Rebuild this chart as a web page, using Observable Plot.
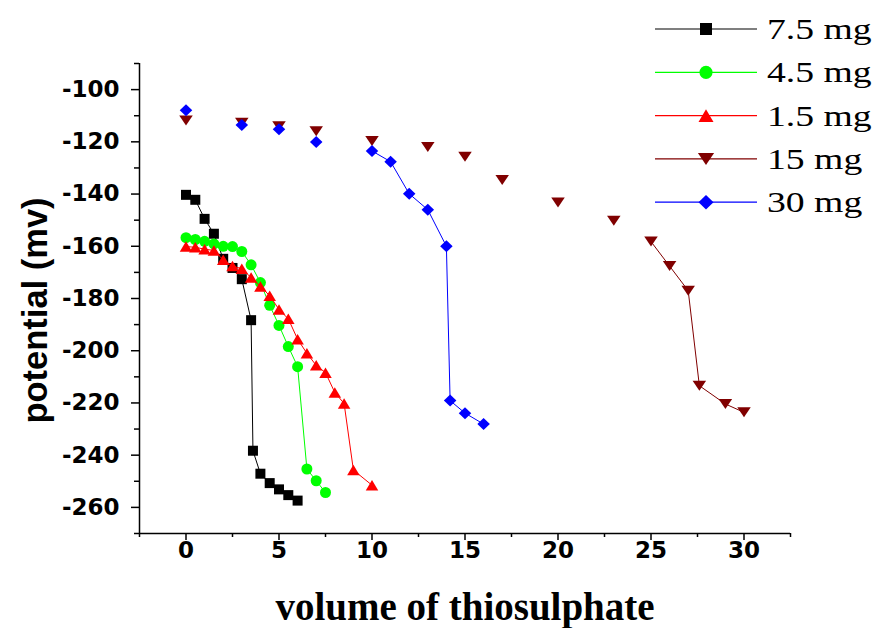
<!DOCTYPE html>
<html>
<head>
<meta charset="utf-8">
<script src="https://cdn.jsdelivr.net/npm/d3@7"></script>
<script src="https://cdn.jsdelivr.net/npm/@observablehq/plot@0.6"></script>
<style>
  html, body { margin: 0; padding: 0; background: #fff; }
  svg { display: block; }
</style>
</head>
<body>
<script>
// ---- data ----
const seriesNames = ["7.5 mg", "4.5 mg", "1.5 mg", "15 mg", "30 mg"];
const seriesColors = ["#000000", "#00ff00", "#ff0000", "#800000", "#0000ff"];

const x_7_5 = [0, 0.5, 1, 1.5, 2, 2.5, 3, 3.5, 3.6, 4, 4.5, 5, 5.5, 6];
const y_7_5 = [-140.3, -142.2, -149.5, -155.2, -164.8, -168.3, -172.6, -188.3, -238.3, -247.1, -250.7, -253.1, -255.3, -257.4];

const x_4_5 = [0, 0.5, 1, 1.5, 2, 2.5, 3, 3.5, 4, 4.5, 5, 5.5, 6, 6.5, 7, 7.5];
const y_4_5 = [-156.7, -157.4, -158.1, -159.1, -160.0, -160.1, -162.0, -167.1, -173.9, -182.6, -190.3, -198.4, -206.1, -245.3, -249.8, -254.3];

const x_1_5 = [0, 0.5, 1, 1.5, 2, 2.5, 3, 3.5, 4, 4.5, 5, 5.5, 6, 6.5, 7, 7.5, 8, 8.5, 9, 10];
const y_1_5 = [-160.1, -160.4, -161.1, -161.6, -165.2, -167.6, -168.6, -172.0, -175.4, -178.9, -184.2, -187.8, -195.6, -201.0, -205.6, -208.4, -216.0, -220.2, -245.7, -251.5];

const x_15 = [0, 3, 5, 7, 10, 13, 15, 17, 20, 23, 25, 26, 27, 27.6, 29, 30];
const y_15 = [-111.8, -112.7, -114.0, -115.9, -119.7, -122.0, -125.7, -134.6, -143.2, -150.2, -158.2, -167.6, -177.0, -213.4, -220.4, -223.6];

const x_30 = [0, 3, 5, 7, 10, 11, 12, 13, 14, 14.2, 15, 16];
const y_30 = [-107.9, -113.6, -115.2, -120.1, -123.5, -127.6, -139.9, -146.0, -160.0, -219.1, -223.9, -228.1];

// connecting line is drawn only from this x onward (as in the original)
const lineFromX = [0, 0, 0, 25, 10];

const yMajorTicks = [-260, -240, -220, -200, -180, -160, -140, -120, -100];
const yMinorTicks = [-270, -250, -230, -210, -190, -170, -150, -130, -110, -90];
const xMajorTicks = [0, 5, 10, 15, 20, 25, 30];
const xMinorTicks = [-2.5, 2.5, 7.5, 12.5, 17.5, 22.5, 27.5, 32.5];

const xTitle = "volume of thiosulphate";
const yTitle = "potential (mv)";

// ---- symbols ----
function rOf(size) { return Math.sqrt(size / Math.PI); }
const symSquare = { draw(c, s) { const r = rOf(s); c.rect(-r, -r, 2 * r, 2 * r); } };
const symCircle = { draw(c, s) { const r = rOf(s) * 1.1; c.moveTo(r, 0); c.arc(0, 0, r, 0, 2 * Math.PI); } };
const symTriUp = { draw(c, s) { const r = rOf(s), w = 1.25 * r, h = 1.05 * r; c.moveTo(0, -h); c.lineTo(w, h); c.lineTo(-w, h); c.closePath(); } };
const symTriDown = { draw(c, s) { const r = rOf(s), w = 1.35 * r, h = 1.0 * r; c.moveTo(0, h); c.lineTo(w, -h); c.lineTo(-w, -h); c.closePath(); } };
const symDiamond = { draw(c, s) { const r = rOf(s), w = 1.25 * r, h = 1.2 * r; c.moveTo(0, -h); c.lineTo(w, 0); c.lineTo(0, h); c.lineTo(-w, 0); c.closePath(); } };
const seriesSymbols = [symSquare, symCircle, symTriUp, symTriDown, symDiamond];

const xsList = [x_7_5, x_4_5, x_1_5, x_15, x_30];
const ysList = [y_7_5, y_4_5, y_1_5, y_15, y_30];

const series = seriesNames.map((name, i) => ({
  name, color: seriesColors[i], symbol: seriesSymbols[i], from: lineFromX[i],
  rows: xsList[i].map((x, j) => ({ x, y: ysList[i][j], series: name }))
}));

const tickFont = { fontFamily: "DejaVu Sans", fontWeight: "bold", fontSize: 23 };

const marks = [
  Plot.axisY({ ticks: yMinorTicks, tickSize: 5, tickFormat: () => "", label: null, strokeWidth: 1.5 }),
  Plot.axisY({ ticks: yMajorTicks, tickSize: 8, tickPadding: 12, tickFormat: d => String(d), label: null, strokeWidth: 1.5, ...tickFont }),
  Plot.axisX({ ticks: xMinorTicks, tickSize: 4, tickFormat: () => "", label: null, strokeWidth: 1.5 }),
  Plot.axisX({ ticks: xMajorTicks, tickSize: 7, tickPadding: 1, tickFormat: d => String(d), label: null, strokeWidth: 1.5, ...tickFont }),
  Plot.ruleX([-2.5], { strokeWidth: 1.5 }),
  Plot.ruleY([-270], { strokeWidth: 1.5 }),
  Plot.text([xTitle], { frameAnchor: "bottom", textAnchor: "middle", dy: 86, text: d => d, fontFamily: "Liberation Serif", fontWeight: "bold", fontSize: 39, fill: "#000" }),
  Plot.text([yTitle], { frameAnchor: "left", textAnchor: "middle", dx: -104, dy: 12, rotate: -90, text: d => d, fontFamily: "Liberation Sans", fontWeight: "bold", fontSize: 34.5, fill: "#000" })
];

for (const s of series) {
  marks.push(Plot.line(s.rows.filter(d => d.x >= s.from), { x: "x", y: "y", stroke: s.color, strokeWidth: 1 }));
  marks.push(Plot.dot(s.rows, { x: "x", y: "y", fill: s.color, stroke: "none", symbol: s.symbol, r: 5 }));
}

const chart = Plot.plot({
  width: 879,
  height: 628,
  marginLeft: 139,
  marginRight: 89,
  marginTop: 63,
  marginBottom: 95,
  style: { background: "#fff", color: "#000", overflow: "visible" },
  x: { domain: [-2.5, 32.5] },
  y: { domain: [-270, -90] },
  marks
});
document.body.appendChild(chart);

// ---- legend (drawn inside the same svg, top right) ----
const svg = d3.select(chart);
const lg = svg.append("g").attr("class", "legend").attr("text-anchor", "start");
const rowY0 = 29, rowStep = 43.3;
series.forEach((s, i) => {
  const y = rowY0 + i * rowStep;
  lg.append("line").attr("x1", 655).attr("x2", 757).attr("y1", y).attr("y2", y)
    .attr("stroke", s.color).attr("stroke-width", 1.2);
  lg.append("path").attr("transform", `translate(706,${y})`)
    .attr("d", d3.symbol().type(s.symbol).size(Math.PI * 6 * 6)())
    .attr("fill", s.color);
  lg.append("text").attr("transform", `translate(767,${y + 10}) scale(1.3,1)`)
    .attr("text-anchor", "start")
    .attr("font-family", "Liberation Serif").attr("font-size", 29).attr("fill", "#000")
    .text(s.name);
});
</script>
</body>
</html>
